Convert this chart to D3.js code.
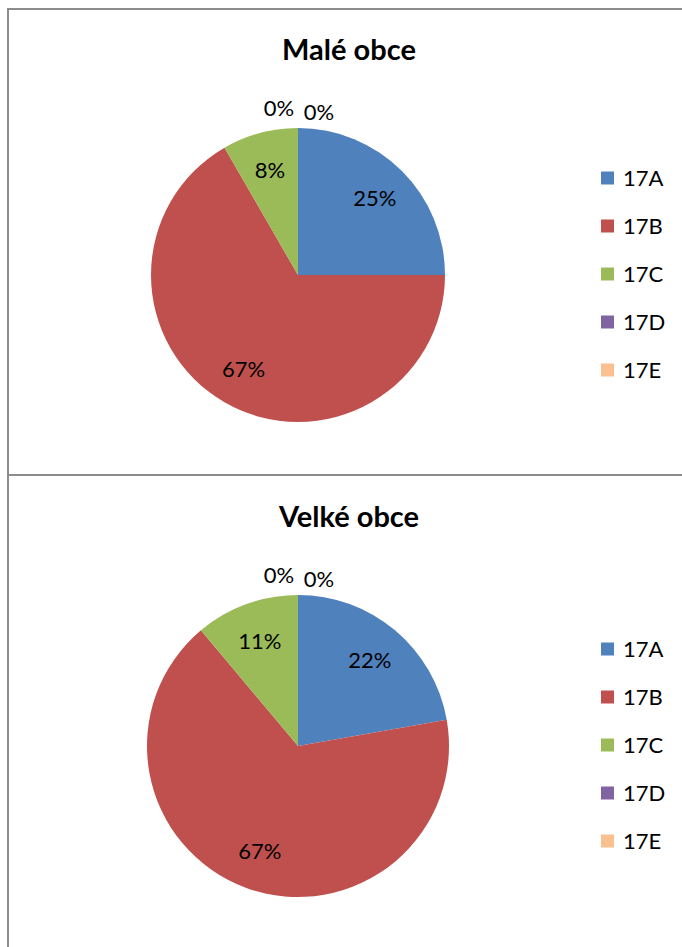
<!DOCTYPE html>
<html>
<head>
<meta charset="utf-8">
<script src="https://cdn.jsdelivr.net/npm/d3@7"></script>
<style>
  body { margin: 0; background: #fff; }
  svg { display: block; font-family: Lato, "Open Sans", sans-serif; }
</style>
</head>
<body>
<script>
// two pie charts, Excel style

// data
var categories = ["17A", "17B", "17C", "17D", "17E"];
var maleObceValues = [3, 8, 1, 0, 0];
var velkeObceValues = [2, 6, 1, 0, 0];
var chartTitles = ["Malé obce", "Velké obce"];
var sliceColors = ["#4F81BD", "#C0504D", "#9BBB59", "#8064A2", "#FAC090"];

var W = 682, H = 947;
var svg = d3.select("body").append("svg").attr("width", W).attr("height", H);

// panel frames (they run off the right / bottom edge of the page)
var frame = svg.append("g").style("stroke", "#8c8c8c").style("stroke-width", "2px");
frame.append("line").attr("x1", 8).attr("x2", W).attr("y1", 9).attr("y2", 9);
frame.append("line").attr("x1", 8).attr("x2", 8).attr("y1", 8).attr("y2", H);
frame.append("line").attr("x1", 8).attr("x2", W).attr("y1", 475).attr("y2", 475);

var panels = [
  {title: chartTitles[0], values: maleObceValues, top: 8, cx: 298, cy: 275, r: 147},
  {title: chartTitles[1], values: velkeObceValues, top: 475, cx: 298, cy: 746, r: 151}
];

var color = d3.scaleOrdinal().domain(categories).range(sliceColors);
var pie = d3.pie().sort(null).value(function(d){ return d.value; });

panels.forEach(function(p){
  var g = svg.append("g");
  var data = categories.map(function(c, i){ return {cat: c, value: p.values[i]}; });
  var total = d3.sum(p.values);
  var arcs = pie(data);

  g.append("text")
    .attr("x", 349).attr("y", p.top + 52)
    .attr("text-anchor", "middle")
    .style("font-size", "29px").style("font-weight", "bold")
    .text(p.title);

  var pieG = g.append("g").attr("transform", "translate(" + p.cx + "," + p.cy + ")");
  var arc = d3.arc().innerRadius(0).outerRadius(p.r);
  var labelArc = d3.arc().innerRadius(p.r * 0.74).outerRadius(p.r * 0.74);
  var outerArc = d3.arc().innerRadius(p.r + 20).outerRadius(p.r + 20);

  pieG.selectAll(".slice")
    .data(arcs)
    .enter()
    .append("path")
    .attr("class", "slice")
    .attr("d", arc)
    .style("fill", function(d){ return color(d.data.cat); });

  // zero slices sit outside, nudged apart so they don't overlap
  var zeroShift = [[-19, 0], [21, 4]];
  var zi = 0;
  arcs.forEach(function(d){
    var pos;
    if (d.data.value === 0) {
      pos = outerArc.centroid(d);
      var s = zeroShift[zi % 2];
      pos = [pos[0] + s[0], pos[1] + s[1]];
      zi++;
    } else {
      pos = labelArc.centroid(d);
    }
    pieG.append("text")
      .attr("x", pos[0]).attr("y", pos[1])
      .attr("dy", "0.36em")
      .attr("text-anchor", "middle")
      .style("font-size", "22px")
      .text(Math.round(d.data.value / total * 100) + "%");
  });

  // legend
  var legend = g.selectAll(".leg")
    .data(categories)
    .enter()
    .append("g")
    .attr("transform", function(d, i){ return "translate(601," + (p.cy - 97 + i * 48) + ")"; });
  legend.append("rect")
    .attr("x", 0).attr("y", -6.5).attr("width", 13).attr("height", 13)
    .style("fill", function(d){ return color(d); });
  legend.append("text")
    .attr("x", 22).attr("y", 0).attr("dy", "0.36em")
    .style("font-size", "22px")
    .text(function(d){ return d; });
});
</script>
</body>
</html>
